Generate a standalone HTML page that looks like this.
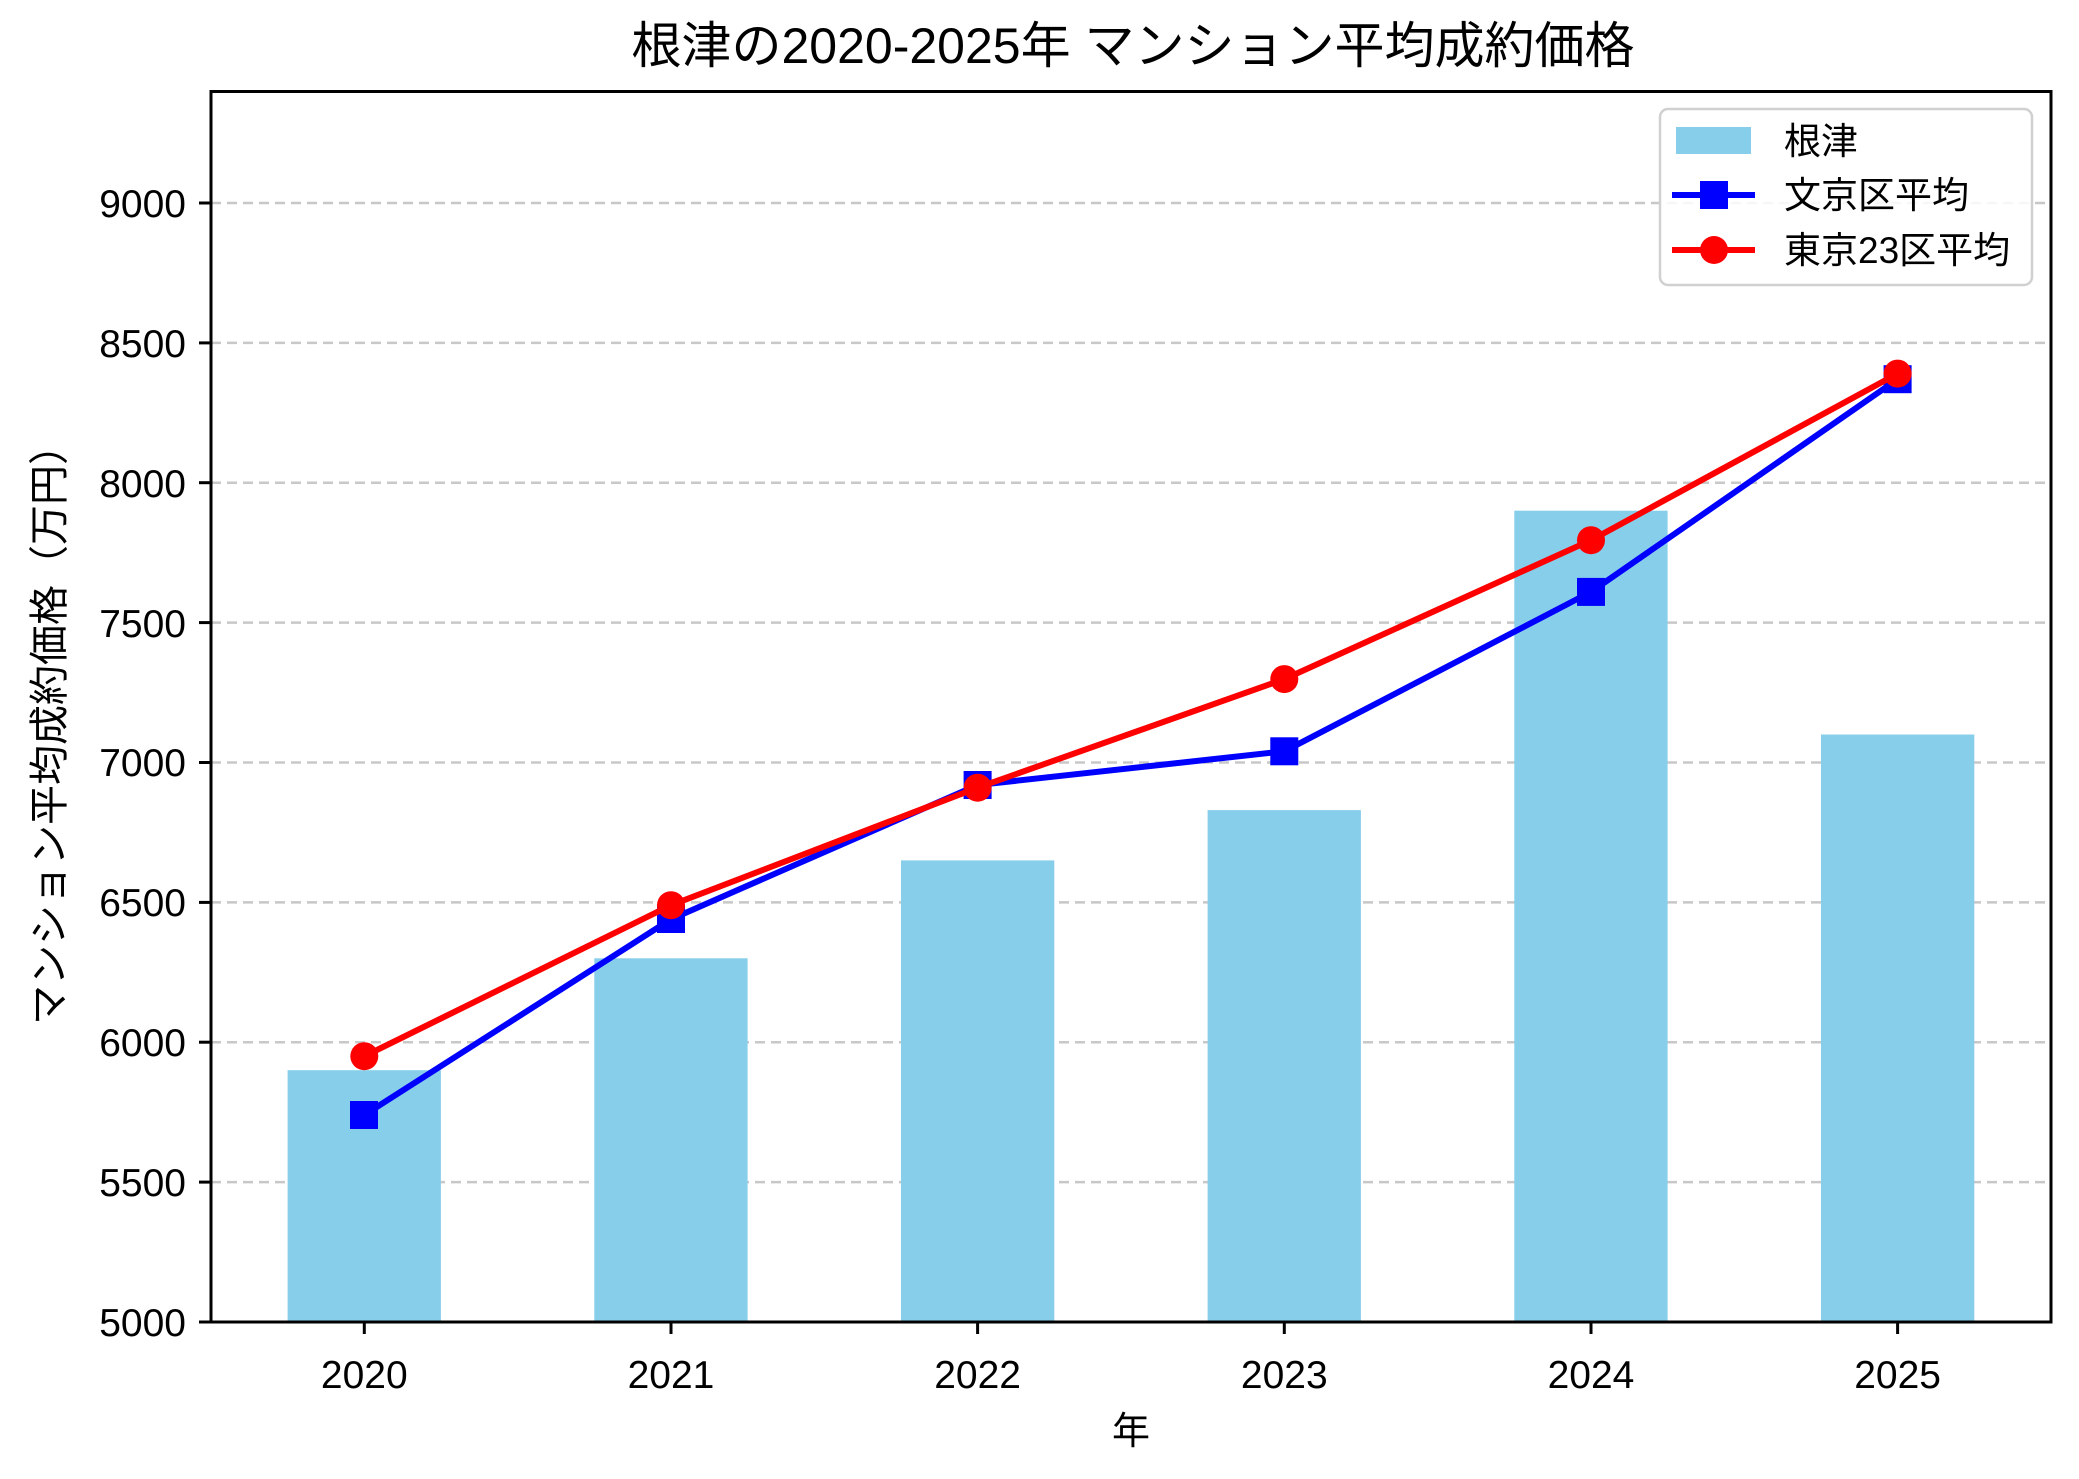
<!DOCTYPE html>
<html><head><meta charset="utf-8"><style>
html,body{margin:0;padding:0;background:#fff;}
text{font-family:"Liberation Sans","Noto Sans CJK JP",sans-serif;fill:#000;}
</style></head><body>
<svg width="2079" height="1474" viewBox="0 0 2079 1474" xmlns="http://www.w3.org/2000/svg">
<rect width="2079" height="1474" fill="#fff"/>
<g stroke="#c8c8c8" stroke-width="2.5" stroke-dasharray="10,6">
<line x1="211" x2="2051" y1="1182.1" y2="1182.1"/>
<line x1="211" x2="2051" y1="1042.2" y2="1042.2"/>
<line x1="211" x2="2051" y1="902.4" y2="902.4"/>
<line x1="211" x2="2051" y1="762.5" y2="762.5"/>
<line x1="211" x2="2051" y1="622.6" y2="622.6"/>
<line x1="211" x2="2051" y1="482.7" y2="482.7"/>
<line x1="211" x2="2051" y1="342.9" y2="342.9"/>
<line x1="211" x2="2051" y1="203" y2="203"/>
</g>
<g fill="#87ceeb">
<rect x="287.6" y="1070.2" width="153.3" height="251.8"/>
<rect x="594.3" y="958.3" width="153.3" height="363.7"/>
<rect x="901" y="860.4" width="153.3" height="461.6"/>
<rect x="1207.6" y="810.1" width="153.3" height="511.9"/>
<rect x="1514.3" y="510.7" width="153.3" height="811.3"/>
<rect x="1821" y="734.5" width="153.3" height="587.5"/>
</g>
<polyline fill="none" stroke="#0000ff" stroke-width="6" stroke-linejoin="round" points="364.3,1115 671,919.2 977.6,785 1284.3,751.3 1591,591.9 1897.6,379.2"/>
<g fill="#0000ff">
<rect x="350" y="1101" width="28" height="28"/><rect x="657" y="905" width="28" height="28"/><rect x="963.6" y="771" width="28" height="28"/><rect x="1270.3" y="737.3" width="28" height="28"/><rect x="1577" y="577.9" width="28" height="28"/><rect x="1883.6" y="365.2" width="28" height="28"/>
</g>
<polyline fill="none" stroke="#ff0000" stroke-width="6" stroke-linejoin="round" points="364.3,1056.2 671,905.2 977.6,787.7 1284.3,679.1 1591,540.2 1897.6,373.6"/>
<g fill="#ff0000">
<circle cx="364.3" cy="1056.2" r="14"/><circle cx="671" cy="905.2" r="14"/><circle cx="977.6" cy="787.7" r="14"/><circle cx="1284.3" cy="679.1" r="14"/><circle cx="1591" cy="540.2" r="14"/><circle cx="1897.6" cy="373.6" r="14"/>
</g>
<rect x="211" y="91.5" width="1840" height="1230.5" fill="none" stroke="#000" stroke-width="3"/>
<g stroke="#000" stroke-width="3">
<line x1="199" x2="211" y1="1322" y2="1322"/><line x1="199" x2="211" y1="1182.1" y2="1182.1"/><line x1="199" x2="211" y1="1042.2" y2="1042.2"/><line x1="199" x2="211" y1="902.4" y2="902.4"/><line x1="199" x2="211" y1="762.5" y2="762.5"/><line x1="199" x2="211" y1="622.6" y2="622.6"/><line x1="199" x2="211" y1="482.7" y2="482.7"/><line x1="199" x2="211" y1="342.9" y2="342.9"/><line x1="199" x2="211" y1="203" y2="203"/>
<line x1="364.3" x2="364.3" y1="1322" y2="1334"/><line x1="671" x2="671" y1="1322" y2="1334"/><line x1="977.6" x2="977.6" y1="1322" y2="1334"/><line x1="1284.3" x2="1284.3" y1="1322" y2="1334"/><line x1="1591" x2="1591" y1="1322" y2="1334"/><line x1="1897.6" x2="1897.6" y1="1322" y2="1334"/>
</g>
<g font-size="39" text-anchor="end">
<text x="186" y="1336">5000</text><text x="186" y="1196">5500</text><text x="186" y="1056">6000</text><text x="186" y="916">6500</text><text x="186" y="776">7000</text><text x="186" y="637">7500</text><text x="186" y="497">8000</text><text x="186" y="357">8500</text><text x="186" y="217">9000</text>
</g>
<g font-size="39" text-anchor="middle">
<text x="364.3" y="1388">2020</text><text x="671" y="1388">2021</text><text x="977.6" y="1388">2022</text><text x="1284.3" y="1388">2023</text><text x="1591" y="1388">2024</text><text x="1897.6" y="1388">2025</text>
</g>
<text x="1131" y="1444" font-size="38" text-anchor="middle">年</text>
<text transform="translate(63,725) rotate(-90)" font-size="40" text-anchor="middle">マンション平均成約価格（万円）</text>
<text x="1133" y="63" font-size="50" text-anchor="middle">根津の2020-2025年 マンション平均成約価格</text>
<rect x="1660" y="109" width="372" height="176" rx="8" fill="#fff" fill-opacity="0.85" stroke="#d0d0d0" stroke-width="2.5"/>
<rect x="1676" y="127" width="75" height="27" fill="#87ceeb"/>
<line x1="1672" x2="1755" y1="195" y2="195" stroke="#0000ff" stroke-width="6"/>
<rect x="1700" y="181" width="28" height="28" fill="#0000ff"/>
<line x1="1672" x2="1755" y1="250" y2="250" stroke="#ff0000" stroke-width="6"/>
<circle cx="1714" cy="250" r="14" fill="#ff0000"/>
<g font-size="37">
<text x="1784" y="154">根津</text><text x="1784" y="208">文京区平均</text><text x="1784" y="263">東京23区平均</text>
</g>
</svg>
</body></html>
